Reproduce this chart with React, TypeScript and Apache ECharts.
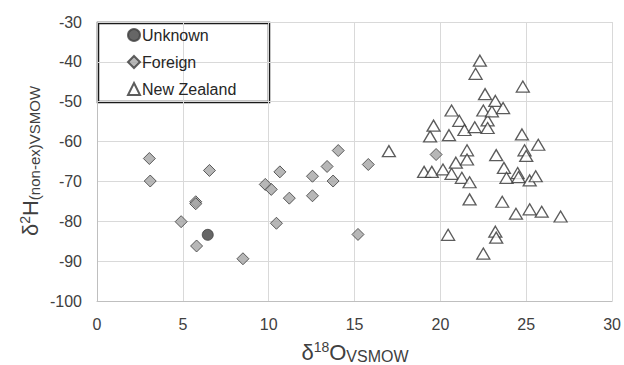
import React, { useEffect, useRef } from "react";
import * as echarts from "echarts";

const unknownData: number[][] = [[6.45, -83.4]];

const foreignData: number[][] = [
  [3.05, -64.25], [3.1, -69.9], [4.9, -80.1], [5.75, -75.1], [5.75, -75.6],
  [5.8, -86.2], [6.55, -67.25], [8.5, -89.4], [9.8, -70.75], [10.15, -72.0],
  [10.45, -80.5], [10.65, -67.6], [11.2, -74.2], [12.55, -68.7], [12.55, -73.6],
  [13.4, -66.25], [13.75, -69.9], [14.05, -62.25], [15.2, -83.3], [15.8, -65.75],
  [19.75, -63.25],
];

const nzData: number[][] = [
  [17.0, -62.4],
  [19.05, -67.6], [19.5, -67.6], [19.4, -58.7], [19.6, -56.0],
  [20.15, -67.0], [20.5, -58.4], [20.65, -68.1], [20.65, -52.2], [20.9, -65.3], [20.45, -83.4],
  [21.1, -54.8], [21.25, -69.1], [21.4, -57.1], [21.55, -62.2], [21.55, -64.5], [21.7, -70.2], [21.7, -74.5],
  [22.0, -56.4], [22.05, -43.0], [22.3, -39.7], [22.5, -88.1], [22.5, -52.2], [22.6, -48.1], [22.75, -54.7], [22.75, -56.6],
  [23.0, -52.4], [23.2, -49.8], [23.2, -82.6], [23.25, -84.1], [23.25, -63.4], [23.6, -75.1], [23.65, -51.6], [23.7, -66.6], [23.85, -69.1],
  [24.4, -78.1], [24.5, -67.9], [24.55, -68.9], [24.75, -58.2], [24.8, -46.2], [24.9, -62.2], [25.0, -63.6],
  [25.2, -69.75], [25.2, -77.0], [25.55, -68.7], [25.7, -60.8], [25.9, -77.6], [27.0, -78.8],
];

const seriesNames = ["Unknown", "Foreign", "New Zealand"];
const xTicks = { min: 0, max: 30, interval: 5 };
const yTicks = { min: -100, max: -30, interval: 10 };

const FONT = "Liberation Sans, Arial, sans-serif";
const TITLE_COLOR = "#404040";

function titleRich(subSize: number) {
  return {
    m: { fontSize: 22, fontFamily: FONT, fill: TITLE_COLOR, lineHeight: 24 },
    sup: { fontSize: 14, fontFamily: FONT, fill: TITLE_COLOR, lineHeight: 14, verticalAlign: "top" },
    sub: { fontSize: subSize, fontFamily: FONT, fill: TITLE_COLOR, lineHeight: subSize, verticalAlign: "bottom" },
  };
}

export default function App() {
  const ref = useRef<HTMLDivElement>(null);
  useEffect(() => {
    if (!ref.current) return;
    const chart = echarts.init(ref.current, undefined, { renderer: "svg" });
    chart.setOption({
      animation: false,
      backgroundColor: "#ffffff",
      textStyle: { fontFamily: FONT },
      grid: { left: 97, top: 22, width: 516, height: 279, containLabel: false },
      xAxis: {
        type: "value",
        min: xTicks.min, max: xTicks.max, interval: xTicks.interval,
        axisLine: { show: true, lineStyle: { color: "#bfbfbf", width: 1 } },
        axisTick: { show: false },
        splitLine: { show: true, lineStyle: { color: "#d9d9d9", width: 1 } },
        axisLabel: { color: "#404040", fontSize: 16, fontFamily: FONT, margin: 15 },
      },
      yAxis: {
        type: "value",
        min: yTicks.min, max: yTicks.max, interval: yTicks.interval,
        axisLine: { show: true, lineStyle: { color: "#bfbfbf", width: 1 } },
        axisTick: { show: false },
        splitLine: { show: true, lineStyle: { color: "#d9d9d9", width: 1 } },
        axisLabel: { color: "#404040", fontSize: 16, fontFamily: FONT, margin: 15 },
      },
      legend: {
        orient: "vertical",
        left: 127,
        top: 27,
        itemWidth: 12,
        itemHeight: 12,
        itemGap: 11,
        padding: 0,
        textStyle: { color: "#262626", fontSize: 16, lineHeight: 16, fontFamily: FONT, padding: [0, 0, 0, -3] },
        data: seriesNames,
      },
      graphic: [
        {
          type: "rect",
          z: 0,
          shape: { x: 98, y: 23, width: 171, height: 79 },
          style: { fill: "#ffffff", stroke: "#1a1a1a", lineWidth: 2.5 },
        },
        {
          type: "text",
          x: 355,
          y: 352,
          style: {
            text: "{m|δ}{sup|18}{m|O}{sub|VSMOW}",
            align: "center",
            verticalAlign: "middle",
            fill: TITLE_COLOR,
            rich: titleRich(16),
          },
        },
        {
          type: "text",
          x: 30,
          y: 161,
          rotation: Math.PI / 2,
          style: {
            text: "{m|δ}{sup|2}{m|H}{sub|(non-ex)VSMOW}",
            align: "center",
            verticalAlign: "middle",
            fill: TITLE_COLOR,
            rich: titleRich(15),
          },
        },
      ],
      series: [
        {
          name: seriesNames[0],
          type: "scatter",
          z: 4,
          data: unknownData,
          symbol: "circle",
          symbolSize: 11,
          itemStyle: { color: "#404040", borderColor: "#404040", borderWidth: 1 },
        },
        {
          name: seriesNames[1],
          type: "scatter",
          z: 3,
          data: foreignData,
          symbol: "diamond",
          symbolSize: 12,
          itemStyle: { color: "#a5a5a5", borderColor: "#3a3a3a", borderWidth: 1 },
        },
        {
          name: seriesNames[2],
          type: "scatter",
          z: 2,
          data: nzData,
          symbol: "triangle",
          symbolSize: [13, 11],
          itemStyle: { color: "#ffffff", borderColor: "#333333", borderWidth: 1.3 },
        },
      ],
    });
    return () => chart.dispose();
  }, []);
  return (
    <div
      ref={ref}
      style={{ position: "fixed", left: 0, top: 0, width: 624, height: 365, background: "#fff" }}
    />
  );
}
